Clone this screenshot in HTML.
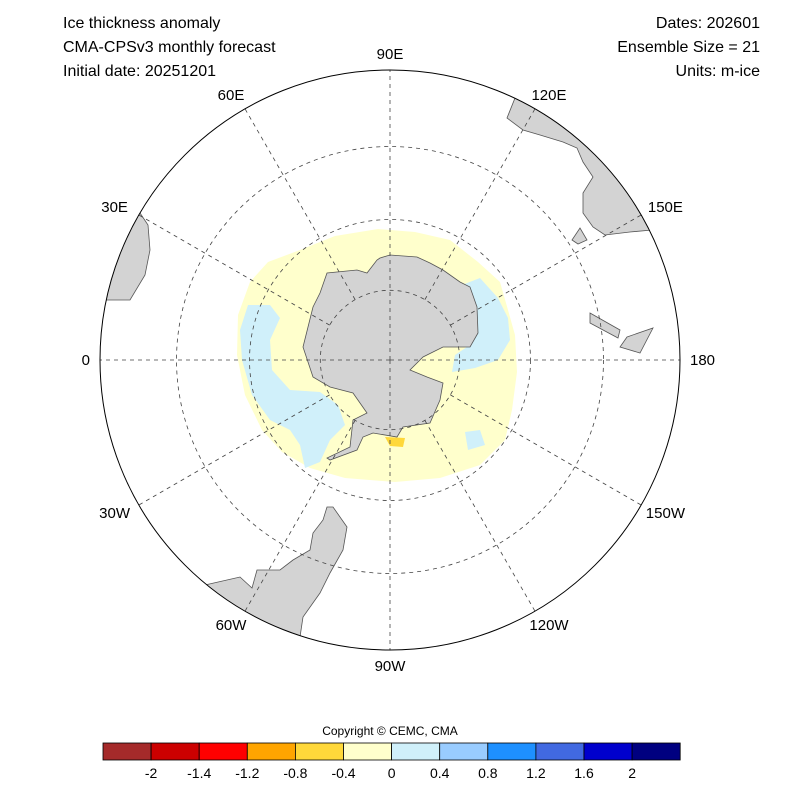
<!DOCTYPE html>
<html><head><meta charset="utf-8"><style>
body{margin:0;background:#fff;font-family:"Liberation Sans",sans-serif}
svg text{font-family:"Liberation Sans",sans-serif;fill:#000}
</style></head><body>
<svg width="800" height="800" viewBox="0 0 800 800">
<defs><clipPath id="c"><circle cx="390" cy="360" r="290"/></clipPath></defs>
<g font-size="16">
<text x="63" y="28">Ice thickness anomaly</text>
<text x="63" y="52">CMA-CPSv3 monthly forecast</text>
<text x="63" y="76">Initial date: 20251201</text>
<text x="760" y="28" text-anchor="end">Dates: 202601</text>
<text x="760" y="52" text-anchor="end">Ensemble Size = 21</text>
<text x="760" y="76" text-anchor="end">Units: m-ice</text>
</g>
<g clip-path="url(#c)">
<path fill="#ffffcc" d="M300,250 L335,236 L378,229 L415,232 L450,240 L478,262 L500,282 L508,310 L515,335 L517,372 L512,410 L505,440 L480,465 L440,478 L395,482 L345,478 L310,468 L282,452 L262,430 L245,395 L237,355 L238,315 L250,282 L268,262 Z"/>
<path fill="#d0f0fa" d="M248,305 L270,305 L280,318 L270,340 L272,370 L290,390 L320,392 L338,405 L345,425 L330,440 L320,462 L305,468 L300,445 L290,430 L270,420 L252,395 L242,360 L240,330 Z"/>
<path fill="#d0f0fa" d="M462,285 L480,278 L498,298 L508,318 L510,340 L498,360 L475,368 L452,372 L455,355 L470,345 L478,320 L470,300 Z"/>
<path fill="#d0f0fa" d="M465,432 L480,430 L485,445 L468,450 Z"/>
<path fill="#ffd83a" d="M385,437 L405,438 L403,447 L390,446 Z"/>
<path fill="#d3d3d3" stroke="#555" stroke-width="0.8" d="M380,258 L390,255 L417,257 L430,263 L443,270 L460,282 L470,287 L477,307 L478,333 L470,347 L443,347 L423,357 L410,370 L427,377 L443,383 L440,400 L430,423 L403,427 L397,437 L373,433 L363,437 L357,450 L330,460 L327,458 L350,447 L353,420 L367,413 L353,393 L330,387 L313,377 L303,347 L313,307 L320,293 L327,273 L357,270 L367,273 L377,260 Z"/>
<path fill="#d3d3d3" stroke="#555" stroke-width="0.8" d="M515,98 L507,118 L523,130 L540,135 L563,142 L577,148 L583,162 L593,177 L583,193 L583,213 L593,227 L605,235 L630,232 L652,230 L700,220 L700,60 L515,60 Z"/>
<path fill="#d3d3d3" stroke="#555" stroke-width="0.8" d="M572,240 L580,228 L587,240 L578,244 Z"/>
<path fill="#d3d3d3" stroke="#555" stroke-width="0.8" d="M590,313 L620,330 L618,338 L590,323 Z M627,337 L653,328 L640,353 L620,347 Z"/>
<path fill="#d3d3d3" stroke="#555" stroke-width="0.8" d="M205,585 L240,577 L252,588 L257,570 L280,570 L293,560 L310,550 L313,533 L323,520 L327,507 L333,507 L347,527 L343,550 L330,573 L320,593 L303,617 L300,637 L300,700 L150,700 L150,600 Z"/>
<path fill="#d3d3d3" stroke="#555" stroke-width="0.8" d="M138,210 L148,225 L150,250 L145,275 L130,300 L90,300 L90,200 Z"/>
</g>
<g id="grid" fill="none" stroke="#444" stroke-width="0.8" stroke-dasharray="4,4"></g>
<circle cx="390" cy="360" r="290" fill="none" stroke="#000" stroke-width="1"/>
<g id="lonlabels" font-size="15"></g>
<text x="390" y="735" text-anchor="middle" font-size="12">Copyright © CEMC, CMA</text>
<g id="cbar"></g>
</svg>
<script>
const cbColors=["#a52a2a","#cc0000","#ff0000","#ffa500","#ffd83a","#ffffcc","#d0f0fa","#99ccff","#1e90ff","#4169e1","#0000cd","#000080"];
const cbLabels=["-2","-1.4","-1.2","-0.8","-0.4","0","0.4","0.8","1.2","1.6","2"];
const lonLabels=["90E","120E","150E","180","150W","120W","90W","60W","30W","0","30E","60E"];
const latRings=[80,70,60];
const NS="http://www.w3.org/2000/svg";
const cx=390,cy=360,R=290,boundLat=50;
function rr(lat){return R*Math.tan((90-Math.abs(lat))/2*Math.PI/180)/Math.tan((90-boundLat)/2*Math.PI/180);}
const g=document.getElementById('grid');
latRings.forEach(l=>{const c=document.createElementNS(NS,'circle');
c.setAttribute('cx',cx);c.setAttribute('cy',cy);c.setAttribute('r',rr(l));

g.appendChild(c);});
const L=document.getElementById('lonlabels');
lonLabels.forEach((t,i)=>{const a=(-90+30*i)*Math.PI/180;
const ca=Math.cos(a),sa=Math.sin(a);
const r0=(i%3===0)?0:rr(80);
const ln=document.createElementNS(NS,'line');
ln.setAttribute('x1',cx+r0*ca);ln.setAttribute('y1',cy+r0*sa);
ln.setAttribute('x2',cx+R*ca);ln.setAttribute('y2',cy+R*sa);

g.appendChild(ln);
const tx=document.createElementNS(NS,'text');
let x,y,anc='middle';
if(Math.abs(ca)>0.95){x=cx+(R+10)*ca;y=cy+5;anc=ca<0?'end':'start';}
else{x=cx+(R+16)*ca+12*ca;y=cy+(R+16)*sa+5;}
tx.setAttribute('x',x);tx.setAttribute('y',y);tx.setAttribute('text-anchor',anc);
tx.textContent=t;

L.appendChild(tx);});
const cb=document.getElementById('cbar');
const x0=103,w=48.1,y0=743,h=17;
cbColors.forEach((c,i)=>{const r=document.createElementNS(NS,'rect');
r.setAttribute('x',x0+i*w);r.setAttribute('y',y0);r.setAttribute('width',w);r.setAttribute('height',h);
r.setAttribute('fill',c);r.setAttribute('stroke','#000');r.setAttribute('stroke-width','0.8');

cb.appendChild(r);});
cbLabels.forEach((t,i)=>{const tx=document.createElementNS(NS,'text');
tx.setAttribute('x',x0+(i+1)*w);tx.setAttribute('y',778);tx.setAttribute('text-anchor','middle');
tx.setAttribute('font-size','14');tx.textContent=t;

cb.appendChild(tx);});
</script>
</body></html>
